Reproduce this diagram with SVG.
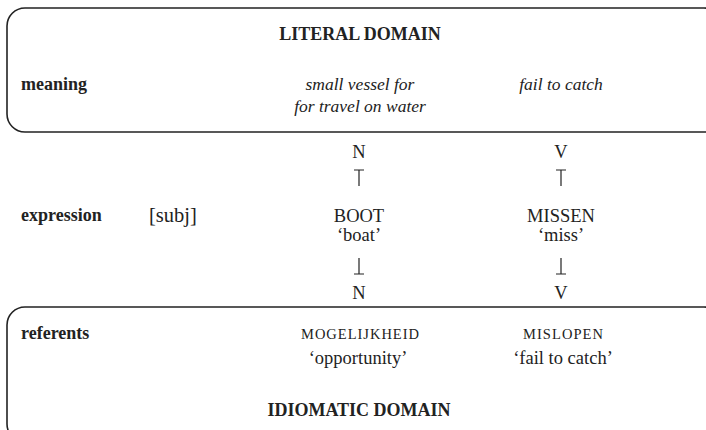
<svg xmlns="http://www.w3.org/2000/svg" width="706" height="430" viewBox="0 0 706 430">
  <style>
    .frame { fill: none; stroke: #222; stroke-width: 1.6; }
    .t { font-family: "Liberation Serif", "DejaVu Serif", serif; fill: #222; }
    .head { font-weight: bold; font-size: 18px; text-anchor: middle; }
    .row { font-weight: bold; font-size: 18px; }
    .gloss { font-style: italic; font-size: 17.5px; text-anchor: middle; }
    .cat { font-size: 18.5px; text-anchor: middle; }
    .sc { font-size: 14.5px; text-anchor: middle; }
    .link { stroke: #222; stroke-width: 1.2; fill: none; }
  </style>

  <!-- literal domain -->
  <g id="literal-domain">
    <rect class="frame" x="7" y="8" width="715" height="124" rx="18"/>
    <text class="t head" x="360" y="40">LITERAL DOMAIN</text>
    <text class="t row" x="21" y="90">meaning</text>
  </g>

  <g id="meaning-boot">
    <text class="t gloss" x="360" y="90">small vessel for</text>
    <text class="t gloss" x="360" y="112">for travel on water</text>
  </g>
  <g id="meaning-missen">
    <text class="t gloss" x="561" y="90">fail to catch</text>
  </g>

  <!-- expression row -->
  <g id="expression-row">
    <text class="t row" x="21" y="221">expression</text>
    <text class="t" x="149" y="222" font-size="20.5">[subj]</text>
  </g>

  <g id="n-top"><text class="t cat" x="359" y="158">N</text></g>
  <g id="v-top"><text class="t cat" x="561" y="158">V</text></g>

  <g id="boot">
    <text class="t cat" x="359" y="222">BOOT</text>
    <text class="t cat" x="359" y="241">‘boat’</text>
  </g>
  <g id="missen">
    <text class="t cat" x="561" y="222">MISSEN</text>
    <text class="t cat" x="561" y="241">‘miss’</text>
  </g>

  <g id="n-bottom"><text class="t cat" x="359" y="299">N</text></g>
  <g id="v-bottom"><text class="t cat" x="561" y="299">V</text></g>

  <!-- connectors: tee bars between category and lexeme -->
  <g id="connectors">
    <path class="link" d="M354 170 H364 M359 170 V186"/>
    <path class="link" d="M556 170 H566 M561 170 V186"/>
    <path class="link" d="M359 258 V274 M354 274 H364"/>
    <path class="link" d="M561 258 V274 M556 274 H566"/>
  </g>

  <!-- idiomatic domain -->
  <g id="idiomatic-domain">
    <rect class="frame" x="7" y="307" width="715" height="135" rx="18"/>
    <text class="t row" x="21" y="339">referents</text>
    <text class="t head" x="359" y="416" font-size="18.5">IDIOMATIC DOMAIN</text>
  </g>

  <g id="mogelijkheid">
    <text class="t sc" x="360" y="339" textLength="118" lengthAdjust="spacing">MOGELIJKHEID</text>
    <text class="t cat" x="358" y="364">‘opportunity’</text>
  </g>
  <g id="mislopen">
    <text class="t sc" x="563" y="339" textLength="80" lengthAdjust="spacing">MISLOPEN</text>
    <text class="t cat" x="563" y="364">‘fail to catch’</text>
  </g>
</svg>
